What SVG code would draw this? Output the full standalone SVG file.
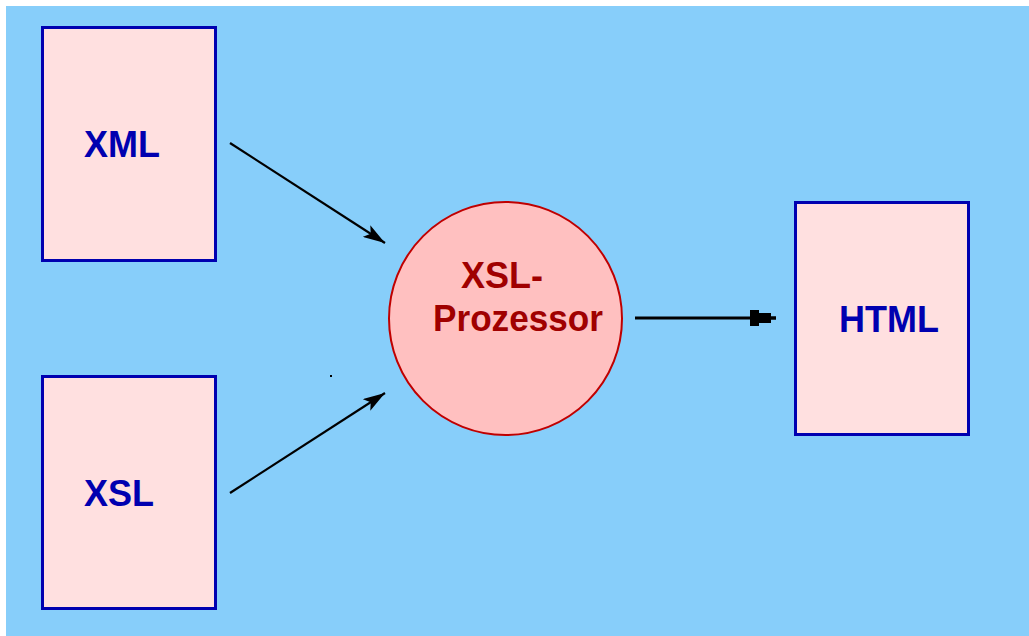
<svg xmlns="http://www.w3.org/2000/svg" width="1029" height="636" viewBox="0 0 1029 636">
<style>
.doc{fill:#FFE0E0;stroke:#0000B0;stroke-width:3}
.lbl{font-family:"Liberation Sans",Arial,sans-serif;font-weight:bold;font-size:36px;fill:#0000B0}
.plbl{font-family:"Liberation Sans",Arial,sans-serif;font-weight:bold;font-size:36px;fill:#A00000}
.conn{stroke:#000;fill:none}
</style>
<defs>
<marker id="ah2" viewBox="0 0 26 16" refX="26" refY="8" markerWidth="26" markerHeight="16" markerUnits="userSpaceOnUse" orient="auto">
<path d="M0,0 H9 V3 H21 V6.5 H26 V9.5 H21 V13 H9 V16 H0 Z" fill="#000"/>
</marker>
<marker id="ah3" viewBox="0 0 22 14" refX="22" refY="7" markerWidth="22" markerHeight="14" markerUnits="userSpaceOnUse" orient="auto">
<path d="M0,0 L22,7 L0,14 L5,7 Z" fill="#000"/>
</marker>
</defs>
<rect x="6" y="6" width="1023" height="630" fill="#87CEFA"/>
<g id="connectors">
<line class="conn" x1="230" y1="143" x2="385" y2="243" stroke-width="2.2" marker-end="url(#ah3)"/>
<line class="conn" x1="230" y1="493" x2="385" y2="393" stroke-width="2.2" marker-end="url(#ah3)"/>
<line class="conn" x1="635" y1="318" x2="776" y2="318" stroke-width="3" marker-end="url(#ah2)"/>
</g>
<rect x="330" y="375" width="2" height="2" fill="#000"/>
<g id="xml">
<rect class="doc" x="42.5" y="27.5" width="173" height="233"/>
<text class="lbl" x="84" y="157">XML</text>
</g>
<g id="xsl">
<rect class="doc" x="42.5" y="376.5" width="173" height="232"/>
<text class="lbl" x="84" y="506">XSL</text>
</g>
<g id="processor">
<circle cx="505.5" cy="318.5" r="116.5" fill="#FFC0C0" stroke="#C00000" stroke-width="2"/>
<text class="plbl" x="461" y="288">XSL-</text>
<text class="plbl" x="433" y="331" textLength="170" lengthAdjust="spacingAndGlyphs">Prozessor</text>
</g>
<g id="html">
<rect class="doc" x="795.5" y="202.5" width="173" height="232"/>
<text class="lbl" x="839" y="332">HTML</text>
</g>
</svg>
